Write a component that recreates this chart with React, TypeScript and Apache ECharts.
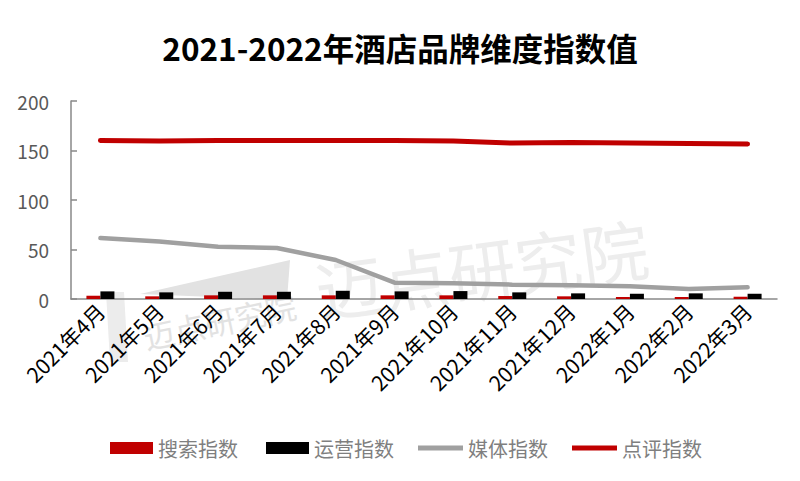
import React, { useEffect, useRef } from "react";
import * as echarts from "echarts";

const categories = [
  "2021年4月", "2021年5月", "2021年6月", "2021年7月", "2021年8月", "2021年9月",
  "2021年10月", "2021年11月", "2021年12月", "2022年1月", "2022年2月", "2022年3月",
];
const searchIndex = [3.3, 2.7, 3.7, 3.7, 3.7, 3.7, 3.7, 3.0, 2.7, 2.0, 2.0, 2.3];
const operationIndex = [7.7, 6.7, 7.3, 7.3, 8.3, 7.7, 8.0, 6.7, 5.7, 5.3, 5.7, 5.3];
const mediaIndex = [61.6, 58, 52.8, 51.5, 39.4, 16.5, 15.8, 14.5, 14, 13, 10, 11.8];
const reviewIndex = [160, 159.5, 160, 160, 160, 160, 159.5, 157.5, 158, 157.5, 157, 156.5];
const seriesNames = ["搜索指数", "运营指数", "媒体指数", "点评指数"];
const titleText = "2021-2022年酒店品牌维度指数值";
const watermarkText = "迈点研究院";

const FONT = '"Noto Sans CJK SC", "Noto Sans", sans-serif';

export default function App() {
  const ref = useRef<HTMLDivElement>(null);
  useEffect(() => {
    if (!ref.current) return;
    const chart = echarts.init(ref.current, undefined, { renderer: "svg" });
    const legendText = { fontSize: 20, color: "#7f7f7f", fontFamily: FONT };
    chart.setOption({
      animation: false,
      backgroundColor: "#ffffff",
      textStyle: { fontFamily: FONT },
      title: {
        text: titleText,
        left: "center",
        top: 26,
        textStyle: { fontSize: 31.5, fontWeight: "bold", color: "#000", fontFamily: FONT },
      },
      graphic: [
        {
          type: "polygon",
          z: -10,
          silent: true,
          shape: { points: [[140, 294], [290, 260], [287, 300]] },
          style: { fill: "#e2e2e2" },
        },
        {
          type: "polygon",
          z: -10,
          silent: true,
          shape: { points: [[106, 292], [124, 292], [128, 362], [110, 362]] },
          style: { fill: "#ececec" },
        },
        {
          type: "text",
          z: -10,
          silent: true,
          x: 147,
          y: 352,
          rotation: (12 * Math.PI) / 180,
          style: {
            text: watermarkText,
            fontSize: 31,
            fontFamily: FONT,
            fill: "#e2e2e2",
            textVerticalAlign: "bottom",
          },
        },
        {
          type: "text",
          z: -10,
          silent: true,
          x: 320,
          y: 322,
          rotation: (7.6 * Math.PI) / 180,
          style: {
            text: watermarkText,
            fontSize: 67,
            fontFamily: FONT,
            fill: "#ededed",
            textVerticalAlign: "bottom",
          },
        },
      ],
      legend: [
        {
          data: [seriesNames[0], seriesNames[1]],
          icon: "rect",
          left: 110,
          top: 438,
          padding: 0,
          itemWidth: 43,
          itemHeight: 12,
          itemGap: 28,
          textStyle: legendText,
        },
        {
          data: [seriesNames[2], seriesNames[3]],
          icon: "rect",
          left: 418,
          top: 438,
          padding: 0,
          itemWidth: 45,
          itemHeight: 5,
          itemGap: 24,
          textStyle: legendText,
        },
      ],
      grid: { left: 71, right: 23, top: 101, bottom: 182, containLabel: false },
      xAxis: {
        type: "category",
        data: categories,
        boundaryGap: true,
        axisLine: { lineStyle: { color: "#898989", width: 1.5 } },
        axisTick: { inside: true, length: 7, alignWithLabel: false, lineStyle: { color: "#898989", width: 1.5 } },
        axisLabel: {
          rotate: 45,
          interval: 0,
          margin: 8,
          fontSize: 21,
          color: "#000",
          fontFamily: FONT,
        },
        splitLine: { show: false },
      },
      yAxis: {
        type: "value",
        min: 0,
        max: 200,
        interval: 50,
        axisLine: { show: true, lineStyle: { color: "#898989", width: 1.5 } },
        axisTick: { show: true, inside: true, length: 6, lineStyle: { color: "#898989", width: 1.5 } },
        axisLabel: { fontSize: 19, color: "#595959", margin: 22, fontFamily: FONT },
        splitLine: { show: false },
      },
      series: [
        {
          name: seriesNames[0],
          type: "bar",
          data: searchIndex,
          barWidth: 14,
          barGap: "0%",
          itemStyle: { color: "#c00000" },
        },
        {
          name: seriesNames[1],
          type: "bar",
          data: operationIndex,
          barWidth: 14,
          barGap: "0%",
          itemStyle: { color: "#000000" },
        },
        {
          name: seriesNames[2],
          type: "line",
          data: mediaIndex,
          symbol: "none",
          lineStyle: { color: "#a0a0a0", width: 4.5, cap: "round" },
          itemStyle: { color: "#a0a0a0" },
        },
        {
          name: seriesNames[3],
          type: "line",
          data: reviewIndex,
          symbol: "none",
          lineStyle: { color: "#c00000", width: 5, cap: "round" },
          itemStyle: { color: "#c00000" },
        },
      ],
    });
    return () => chart.dispose();
  }, []);
  return <div ref={ref} style={{ width: 800, height: 481, margin: -8 }} />;
}
